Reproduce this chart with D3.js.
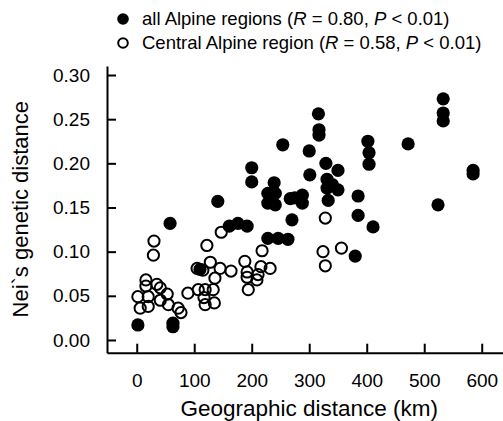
<!DOCTYPE html>
<html>
<head>
<meta charset="utf-8">
<script src="https://cdn.jsdelivr.net/npm/d3@7"></script>
<style>
  html, body { margin: 0; padding: 0; background: #fff; }
  svg { display: block; font-family: "Liberation Sans", Arial, Helvetica, sans-serif; }
</style>
</head>
<body>
<svg id="chart" width="503" height="421"></svg>
<script>
// Pairwise comparisons: geographic distance (km) vs Nei's genetic distance
const allAlpineKm = [2, 63, 63, 58, 141, 161, 176, 192, 110, 200, 200, 239, 228, 241, 228, 241, 235,
  267, 288, 288, 275, 301, 270, 228, 246, 263, 254, 300, 316, 317, 317, 329, 350, 331, 340, 331,
  350, 333, 385, 385, 411, 380, 402, 404, 404, 472, 533, 533, 533, 585, 585, 524];
const allAlpineNei = [0.017, 0.019, 0.015, 0.132, 0.157, 0.129, 0.132, 0.129, 0.080, 0.195, 0.179,
  0.178, 0.166, 0.166, 0.155, 0.153, 0.161, 0.160, 0.164, 0.155, 0.161, 0.187, 0.136, 0.115, 0.115,
  0.114, 0.221, 0.214, 0.256, 0.238, 0.232, 0.200, 0.192, 0.182, 0.176, 0.172, 0.170, 0.158, 0.163,
  0.141, 0.128, 0.095, 0.225, 0.212, 0.199, 0.222, 0.273, 0.257, 0.248, 0.192, 0.188, 0.153];

const centralKm = [30, 29, 147, 122, 218, 188, 128, 145, 164, 232, 192, 194, 211, 209, 136, 105, 115,
  107, 119, 133, 117, 119, 135, 89, 16, 16, 35, 41, 2, 20, 6, 20, 41, 53, 55, 72, 77, 328, 324, 356,
  328, 216, 192];
const centralNei = [0.112, 0.096, 0.122, 0.107, 0.101, 0.089, 0.088, 0.081, 0.078, 0.081, 0.071,
  0.057, 0.074, 0.068, 0.070, 0.081, 0.079, 0.057, 0.057, 0.057, 0.048, 0.040, 0.042, 0.053, 0.068,
  0.061, 0.063, 0.059, 0.049, 0.049, 0.036, 0.038, 0.045, 0.052, 0.040, 0.036, 0.031, 0.138, 0.100,
  0.104, 0.084, 0.083, 0.077];

const xTicks = [0, 100, 200, 300, 400, 500, 600];
const yTicks = [0.00, 0.05, 0.10, 0.15, 0.20, 0.25, 0.30];

const svg = d3.select("#chart");

const x = d3.scaleLinear().domain([-51.7, 637]).range([107, 503]);
const y = d3.scaleLinear().domain([-0.0144, 0.3102]).range([352.7, 66]);

// Axes with inward ticks
const xAxis = svg.append("g")
  .attr("transform", `translate(0,${y(-0.0144)})`)
  .call(d3.axisBottom(x).tickValues(xTicks).tickFormat(d3.format("d"))
    .tickSizeInner(-9).tickSizeOuter(0).tickPadding(21));

const yAxis = svg.append("g")
  .attr("transform", `translate(${x(-51.7)},0)`)
  .call(d3.axisLeft(y).tickValues(yTicks).tickFormat(d3.format(".2f"))
    .tickSizeInner(-9).tickSizeOuter(0).tickPadding(17));

[xAxis, yAxis].forEach(g => {
  g.select(".domain").attr("stroke", "#000").attr("stroke-width", 2);
  g.selectAll(".tick line").attr("stroke", "#000").attr("stroke-width", 2);
  g.selectAll(".tick text").attr("fill", "#000").style("font-size", "19px")
    .style("font-family", "'Liberation Sans', Arial, sans-serif");
});

// Axis titles
svg.append("text")
  .attr("x", x(300)).attr("y", 416)
  .attr("text-anchor", "middle")
  .style("font-size", "22.5px")
  .text("Geographic distance (km)");

svg.append("text")
  .attr("transform", `translate(28,${y(0.148)}) rotate(-90)`)
  .attr("text-anchor", "middle")
  .style("font-size", "22px")
  .text("Nei`s genetic distance");

// Central Alpine region: open circles
svg.append("g").selectAll("circle")
  .data(d3.zip(centralKm, centralNei))
  .join("circle")
  .attr("cx", d => x(d[0])).attr("cy", d => y(d[1]))
  .attr("r", 5.6)
  .attr("fill", "#fff").attr("fill-opacity", 0)
  .attr("stroke", "#000").attr("stroke-width", 2);

// All Alpine regions: filled circles
svg.append("g").selectAll("circle")
  .data(d3.zip(allAlpineKm, allAlpineNei))
  .join("circle")
  .attr("cx", d => x(d[0])).attr("cy", d => y(d[1]))
  .attr("r", 6.6)
  .attr("fill", "#000");

// Legend
const legend = svg.append("g").style("font-size", "18.5px");
legend.append("circle").attr("cx", 123).attr("cy", 19).attr("r", 5.8).attr("fill", "#000");
legend.append("circle").attr("cx", 123).attr("cy", 43).attr("r", 4.8)
  .attr("fill", "none").attr("stroke", "#000").attr("stroke-width", 2);

function legendLine(yPos, label, r, p) {
  const t = legend.append("text").attr("x", 142).attr("y", yPos).attr("dy", "0.35em");
  t.append("tspan").text(label + " (");
  t.append("tspan").style("font-style", "italic").text("R");
  t.append("tspan").text(" = " + r + ", ");
  t.append("tspan").style("font-style", "italic").text("P");
  t.append("tspan").text(" < " + p + ")");
}
legendLine(19, "all Alpine regions", "0.80", "0.01");
legendLine(43, "Central Alpine region", "0.58", "0.01");
</script>
</body>
</html>
